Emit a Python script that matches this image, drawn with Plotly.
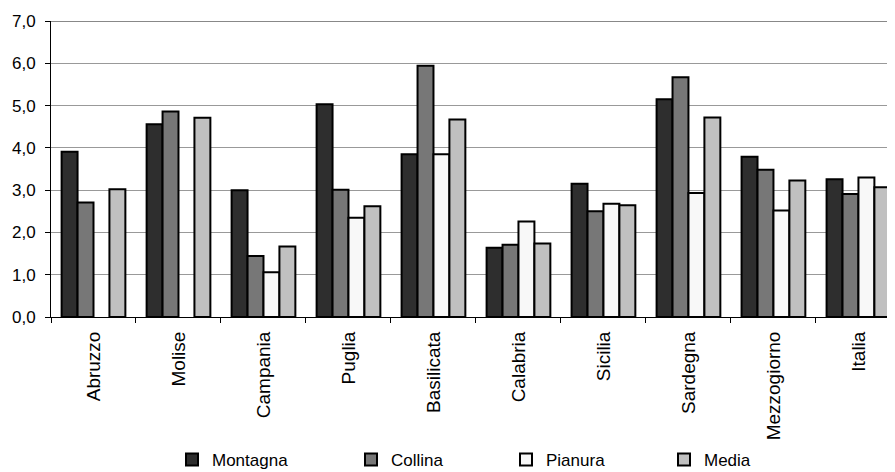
import plotly.graph_objects as go

categories = ["Abruzzo", "Molise", "Campania", "Puglia", "Basilicata",
              "Calabria", "Sicilia", "Sardegna", "Mezzogiorno", "Italia"]
montagna = [3.91, 4.56, 3.00, 5.03, 3.85, 1.64, 3.15, 5.15, 3.79, 3.26]
collina = [2.71, 4.86, 1.44, 3.01, 5.94, 1.71, 2.50, 5.67, 3.48, 2.91]
pianura = [None, None, 1.06, 2.35, 3.85, 2.26, 2.68, 2.93, 2.52, 3.30]
media = [3.02, 4.71, 1.67, 2.62, 4.67, 1.74, 2.64, 4.72, 3.23, 3.07]

series = [
    ("Montagna", montagna, "#2e2e2e", "legend"),
    ("Collina", collina, "#777777", "legend2"),
    ("Pianura", pianura, "#f8f8f8", "legend3"),
    ("Media", media, "#c0c0c0", "legend4"),
]

# the page body has a default 8px margin, so the figure is drawn 8px in
OFF = 8
W, H = 895 - OFF, 470
FONT = "Liberation Sans, Arial, sans-serif"

fig = go.Figure()
for name, vals, color, lg in series:
    fig.add_trace(go.Bar(
        x=categories, y=vals, name=name, legend=lg,
        marker=dict(color=color, line=dict(color="black", width=2)),
    ))

# text start positions of legend entries (viewport px)
text_x = [213, 392, 547, 705]
legend_common = dict(orientation="h", xref="container", yref="container",
                     yanchor="bottom", y=0.0, bgcolor="rgba(0,0,0,0)",
                     font=dict(family=FONT, size=17, color="black"),
                     itemwidth=30)
legends = {}
for i, key in enumerate(["legend", "legend2", "legend3", "legend4"]):
    legends[key] = dict(legend_common, x=(text_x[i] - OFF - 41) / W,
                        xanchor="left")

fig.update_layout(
    width=W, height=H,
    margin=dict(l=51 - OFF, r=0, t=21 - OFF, b=OFF + H - 317, autoexpand=False),
    paper_bgcolor="white", plot_bgcolor="white",
    separators=",.",
    barmode="group", bargap=0.25, bargroupgap=0,
    font=dict(family=FONT, size=17, color="black"),
    showlegend=True,
    **legends,
)
fig.update_xaxes(
    type="category", range=[-0.5, 9.43], automargin=False,
    tickson="boundaries", ticks="outside", ticklen=5, tickcolor="black",
    showline=True, linecolor="black", linewidth=1,
    showgrid=False, tickangle=-90, ticklabelstandoff=6,
    tickfont=dict(family=FONT, size=19, color="black"),
)
fig.update_yaxes(
    range=[0, 7], dtick=1, tickformat=".1f", automargin=False,
    ticks="outside", ticklen=5, tickcolor="black",
    showline=True, linecolor="black", linewidth=1,
    showgrid=True, gridcolor="#999999", gridwidth=1, zeroline=False,
    ticklabelstandoff=6,
    tickfont=dict(family=FONT, size=17, color="black"),
)
fig.add_shape(type="line", xref="paper", yref="y", x0=0, x1=1, y0=7, y1=7,
              line=dict(color="#888888", width=2), layer="below")

fig.write_html("out.html")
